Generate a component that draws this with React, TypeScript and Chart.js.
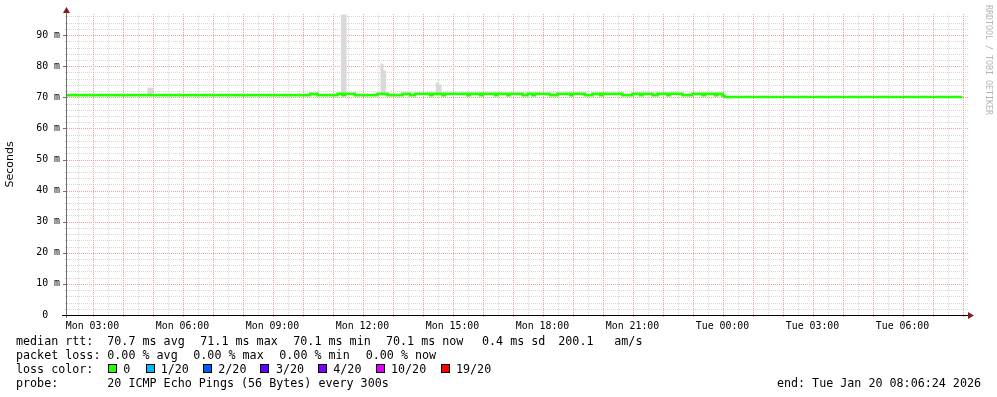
import React, { useEffect, useRef } from 'react';
import { Chart, registerables } from 'chart.js';

Chart.register(...registerables);

// ---------- data (time = minutes since Mon 00:00) ----------
const timeRangeStart = 129;
const timeRangeEnd = 1929;

const xTickTimes = [180, 360, 540, 720, 900, 1080, 1260, 1440, 1620, 1800];
const xTickLabels = ['Mon 03:00', 'Mon 06:00', 'Mon 09:00', 'Mon 12:00', 'Mon 15:00', 'Mon 18:00', 'Mon 21:00', 'Tue 00:00', 'Tue 03:00', 'Tue 06:00'];

const yTickValues = [0, 10, 20, 30, 40, 50, 60, 70, 80, 90];
const yTickLabels = ['0  ', '10 m', '20 m', '30 m', '40 m', '50 m', '60 m', '70 m', '80 m', '90 m'];
const yMax = 96.8;

// median RTT (ms), stepwise: value holds from its time until the next time
const medianTimes = [
  129, 615, 630, 670, 680, 685, 705, 750, 770, 800,
  815, 825, 855, 860, 880, 885, 930, 935, 955, 960,
  985, 990, 1010, 1015, 1040, 1050, 1060, 1065, 1095, 1110,
  1135, 1140, 1165, 1180, 1195, 1200, 1240, 1260, 1275, 1280,
  1300, 1310, 1330, 1335, 1360, 1380, 1400, 1405, 1425, 1430,
  1440, 1445, 1920,
];
const medianRtt = [
  70.7, 71.1, 70.7, 71.1, 70.7, 71.1, 70.7, 71.1, 70.7, 71.1,
  70.7, 71.1, 70.7, 71.1, 70.7, 71.1, 70.7, 71.1, 70.7, 71.1,
  70.7, 71.1, 70.7, 71.1, 70.7, 71.1, 70.7, 71.1, 70.7, 71.1,
  70.7, 71.1, 70.7, 71.1, 70.7, 71.1, 70.7, 71.1, 70.7, 71.1,
  70.7, 71.1, 70.7, 71.1, 70.7, 71.1, 70.7, 71.1, 70.7, 71.1,
  70.5, 70.1, 70.1,
];

// smoke (spread of the 20 pings) at the few steps where it is visible
const smokeTimes = [293, 298, 680, 685, 759, 764, 870, 875];
const smokeLow = [70.7, 70.7, 70.7, 70.7, 70.7, 70.7, 70.7, 70.7];
const smokeHigh = [73.0, 73.0, 96.5, 96.5, 80.7, 78.5, 74.6, 74.0];

const rttLabel = 'median rtt:';
const rttStats = ['70.7 ms avg', '71.1 ms max', '70.1 ms min', '70.1 ms now', '0.4 ms sd', '200.1', 'am/s'];
const lossLabel = 'packet loss:';
const lossStats = ['0.00 % avg', '0.00 % max', '0.00 % min', '0.00 % now'];
const lossColorLabel = 'loss color:';
const lossLabels = ['0', '1/20', '2/20', '3/20', '4/20', '10/20', '19/20'];
const lossColors = ['#26ff00', '#00b8ff', '#0059ff', '#5e00ff', '#7e00ff', '#dd00ff', '#ff0000'];
const probeLabel = 'probe:';
const probeText = '20 ICMP Echo Pings (56 Bytes) every 300s';
const endText = 'end: Tue Jan 20 08:06:24 2026';
const watermark = 'RRDTOOL / TOBI OETIKER';

// ---------- layout ----------
const W = 997;
const H = 397;
const MONO = '"DejaVu Sans Mono", monospace';
const legendFont = `11.7px ${MONO}`;
const rowY = [345, 359, 373, 387];
const rttX = [107.3, 200.3, 293.3, 386, 482, 558.3, 614.3];
const lossX = [107.3, 193.3, 279.3, 365.7];
const boxX = [108, 146, 203, 260, 318, 376, 441];
const boxLabelX = [123.3, 160.7, 218.3, 276, 333.3, 391, 456];

const MINOR = 'rgb(214,214,214)';
const MAJOR = 'rgb(240,160,160)';
const ARROW = '#8b1a1a';

const gridPlugin = {
  id: 'dottedGrid',
  beforeDatasetsDraw(chart: any) {
    const ctx: CanvasRenderingContext2D = chart.ctx;
    const { left, right, top, bottom } = chart.chartArea;
    const xs = chart.scales.x;
    const ys = chart.scales.y;
    ctx.save();
    ctx.lineWidth = 1;
    ctx.setLineDash([1, 1]);
    // minor first, then major on top
    [false, true].forEach((major) => {
      ctx.strokeStyle = major ? MAJOR : MINOR;
      ctx.beginPath();
      xs.ticks.forEach((t: any) => {
        if ((t.value % 60 === 0) !== major) return;
        const px = Math.round(xs.getPixelForValue(t.value)) + 0.5;
        ctx.moveTo(px, top);
        ctx.lineTo(px, bottom + 3);
      });
      ys.ticks.forEach((t: any) => {
        if ((t.value % 10 === 0) !== major || t.value === 0) return;
        const py = Math.round(ys.getPixelForValue(t.value)) + 0.5;
        ctx.moveTo(left - 2, py);
        ctx.lineTo(right + 1, py);
      });
      ctx.stroke();
    });
    ctx.restore();
  },
};

const decorPlugin = {
  id: 'decor',
  afterDraw(chart: any) {
    const ctx: CanvasRenderingContext2D = chart.ctx;
    const { left, right, top, bottom } = chart.chartArea;
    ctx.save();
    ctx.setLineDash([]);

    // y-axis line + small ticks
    ctx.strokeStyle = '#707070';
    ctx.lineWidth = 1;
    ctx.beginPath();
    ctx.moveTo(left - 0.5, bottom + 3);
    ctx.lineTo(left - 0.5, top - 3);
    ctx.stroke();
    const ys = chart.scales.y;
    ctx.beginPath();
    yTickValues.forEach((v) => {
      const py = Math.round(ys.getPixelForValue(v)) + 0.5;
      ctx.moveTo(left - 4, py);
      ctx.lineTo(left - 1, py);
    });
    ctx.stroke();

    // x-axis line
    ctx.strokeStyle = '#000';
    ctx.beginPath();
    ctx.moveTo(left - 5, bottom + 0.5);
    ctx.lineTo(right + 3, bottom + 0.5);
    ctx.stroke();

    // arrows
    ctx.fillStyle = ARROW;
    ctx.beginPath();
    ctx.moveTo(left - 0.5, top - 7);
    ctx.lineTo(left - 4, top - 1);
    ctx.lineTo(left + 3, top - 1);
    ctx.closePath();
    ctx.fill();
    ctx.beginPath();
    ctx.moveTo(right + 7, bottom + 0.5);
    ctx.lineTo(right + 1, bottom - 3);
    ctx.lineTo(right + 1, bottom + 4);
    ctx.closePath();
    ctx.fill();

    // watermark
    ctx.save();
    ctx.translate(988, 5);
    ctx.rotate(Math.PI / 2);
    ctx.font = `8.3px ${MONO}`;
    ctx.fillStyle = '#b4b4b4';
    ctx.textAlign = 'left';
    ctx.textBaseline = 'middle';
    ctx.fillText(watermark, 0, 0);
    ctx.restore();

    // legend
    ctx.font = legendFont;
    ctx.fillStyle = '#000';
    ctx.textAlign = 'left';
    ctx.textBaseline = 'alphabetic';
    ctx.fillText(rttLabel, 16, rowY[0]);
    rttStats.forEach((s, i) => ctx.fillText(s, rttX[i], rowY[0]));
    ctx.fillText(lossLabel, 16, rowY[1]);
    lossStats.forEach((s, i) => ctx.fillText(s, lossX[i], rowY[1]));
    ctx.fillText(lossColorLabel, 16, rowY[2]);
    lossLabels.forEach((s, i) => {
      ctx.fillStyle = lossColors[i];
      ctx.fillRect(boxX[i] + 0.5, rowY[2] - 8.5, 8, 8);
      ctx.strokeStyle = '#000';
      ctx.lineWidth = 1;
      ctx.strokeRect(boxX[i] + 0.5, rowY[2] - 8.5, 8, 8);
      ctx.fillStyle = '#000';
      ctx.fillText(s, boxLabelX[i], rowY[2]);
    });
    ctx.fillText(probeLabel, 16, rowY[3]);
    ctx.fillText(probeText, 107.3, rowY[3]);
    ctx.textAlign = 'right';
    ctx.fillText(endText, 981, rowY[3]);
    ctx.restore();
  },
};

export default function App() {
  const ref = useRef<HTMLCanvasElement | null>(null);

  useEffect(() => {
    if (!ref.current) return;
    const gridTimes: number[] = [];
    for (let t = 150; t <= 1920; t += 30) gridTimes.push(t);

    const chart = new Chart(ref.current, {
      type: 'line',
      data: {
        datasets: [
          {
            type: 'line',
            label: 'median rtt',
            data: medianTimes.map((t, i) => ({ x: t, y: medianRtt[i] })),
            borderColor: '#22ff00',
            backgroundColor: '#22ff00',
            borderWidth: 2.6,
            pointRadius: 0,
            stepped: true,
            fill: false,
            order: 0,
          } as any,
          {
            type: 'bar',
            label: 'smoke',
            data: smokeTimes.map((t, i) => ({ x: t, y: [smokeLow[i], smokeHigh[i]] })),
            backgroundColor: '#d9d9d9',
            borderWidth: 0,
            barThickness: 2.5,
            order: 1,
          } as any,
        ],
      },
      options: {
        animation: false,
        responsive: false,
        devicePixelRatio: 1,
        layout: { padding: { left: 0, top: 14, right: 30, bottom: 0 } },
        plugins: {
          legend: { display: false },
          tooltip: { enabled: false },
          title: { display: false },
        },
        scales: {
          x: {
            type: 'linear',
            min: timeRangeStart,
            max: timeRangeEnd,
            offset: false,
            afterBuildTicks: (scale: any) => {
              scale.ticks = gridTimes.map((v) => ({ value: v }));
            },
            afterFit: (scale: any) => {
              scale.height = H - 315;
            },
            grid: { display: false, drawTicks: false },
            border: { display: false },
            ticks: {
              autoSkip: false,
              maxRotation: 0,
              padding: 5,
              color: '#000',
              font: { family: MONO, size: 9.9 },
              callback: (v: any) => {
                const i = xTickTimes.indexOf(Number(v));
                return i >= 0 ? xTickLabels[i] : '';
              },
            },
          },
          y: {
            type: 'linear',
            min: 0,
            max: yMax,
            afterFit: (scale: any) => {
              scale.width = 67;
            },
            grid: { display: false, drawTicks: false },
            border: { display: false },
            title: {
              display: true,
              text: 'Seconds',
              color: '#000',
              font: { family: '"DejaVu Sans", sans-serif', size: 11 },
              padding: { top: 4, bottom: 0 },
            },
            ticks: {
              stepSize: 2,
              includeBounds: false,
              autoSkip: false,
              padding: 7,
              color: '#000',
              font: { family: MONO, size: 9.9 },
              callback: (v: any) => {
                const i = yTickValues.indexOf(Number(v));
                return i >= 0 ? yTickLabels[i] : '';
              },
            },
          },
        },
      },
      plugins: [gridPlugin, decorPlugin],
    } as any);

    return () => chart.destroy();
  }, []);

  return (
    <div style={{ position: 'absolute', left: 0, top: 0, width: W, height: H, background: '#fff' }}>
      <canvas ref={ref} width={W} height={H} style={{ display: 'block', width: W, height: H }} />
    </div>
  );
}
